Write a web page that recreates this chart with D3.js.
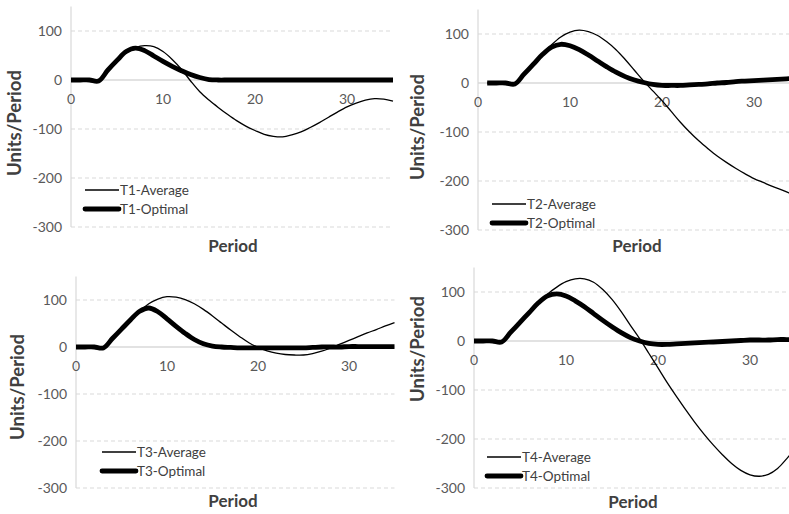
<!DOCTYPE html>
<html>
<head>
<meta charset="utf-8">
<script src="https://cdnjs.cloudflare.com/ajax/libs/d3/7.8.5/d3.min.js"></script>
<style>
  body { margin: 0; background: #fff; }
  text { font-family: Lato, "Open Sans", sans-serif; }
</style>
</head>
<body>
<div id="chart"></div>
<script>
// values, one value per period
var t1Periods = d3.range(0, 36);
var t1Average = [0, 0, 0, -2, 20, 40, 57, 66, 70, 68, 58, 42, 22, -2, -24, -41, -56, -70, -83, -94, -103, -111, -115, -116, -112, -106, -97, -87, -76, -65, -55, -47, -41, -38, -39, -43];
var t1Optimal = [0, 0, 0, -2, 20, 40, 58, 65, 60, 49, 38, 28, 19, 11, 5, 1, 0, 0, 0, 0, 0, 0, 0, 0, 0, 0, 0, 0, 0, 0, 0, 0, 0, 0, 0, 0];

var t2Periods = d3.range(1, 36);
var t2Average = [0, 0, 0, -2, 18, 38, 58, 78, 94, 104, 108, 105, 97, 84, 68, 48, 26, 4, -16, -36, -58, -80, -100, -118, -134, -149, -162, -174, -185, -195, -203, -211, -218, -226, -234];
var t2Optimal = [0, 0, 0, -2, 18, 38, 58, 73, 79, 76, 68, 57, 45, 33, 22, 13, 6, 1, -3, -5, -5, -5, -4, -3, -2, 0, 1, 3, 4, 5, 6, 7, 8, 9, 10];

var t3Periods = d3.range(0, 36);
var t3Average = [0, 0, 0, -2, 18, 38, 58, 76, 92, 102, 107, 106, 101, 92, 80, 66, 51, 36, 22, 9, -1, -8, -13, -16, -17, -17, -14, -9, -2, 6, 14, 22, 30, 37, 45, 52];
var t3Optimal = [0, 0, 0, -2, 18, 38, 58, 76, 83, 75, 60, 44, 29, 16, 7, 2, 0, -1, -2, -2, -2, -2, -2, -2, -2, -2, -1, 0, 0, 0, 1, 1, 1, 1, 1, 1];

var t4Periods = d3.range(0, 36);
var t4Average = [0, 0, 0, -2, 18, 38, 58, 78, 96, 110, 121, 127, 127, 120, 105, 85, 60, 32, 5, -25, -55, -85, -113, -140, -166, -190, -212, -232, -250, -264, -273, -276, -272, -260, -240, -218];
var t4Optimal = [0, 0, 0, -2, 18, 38, 58, 78, 92, 96, 92, 82, 70, 56, 42, 29, 17, 7, 0, -5, -7, -7, -6, -5, -4, -3, -2, -1, 0, 1, 2, 2, 2, 3, 3, 3];

var yTicks = [100, 0, -100, -200, -300];
var xTicks = [0, 10, 20, 30];

var panels = [
  { name: "T1", periods: t1Periods, avg: t1Average, opt: t1Optimal,
    x0: 71, x1: 393, yTop: 6.5, yBot: 227, legX: 85, legY: 190, ytX: 15, ytY: 123, ptX: 233, ptY: 252 },
  { name: "T2", periods: t2Periods, avg: t2Average, opt: t2Optimal,
    x0: 478, x1: 800, yTop: 9.5, yBot: 230, legX: 492, legY: 204, ytX: 418, ytY: 127, ptX: 637, ptY: 252 },
  { name: "T3", periods: t3Periods, avg: t3Average, opt: t3Optimal,
    x0: 76, x1: 394.5, yTop: 276.5, yBot: 488, legX: 102, legY: 452, ytX: 18, ytY: 387, ptX: 233, ptY: 507 },
  { name: "T4", periods: t4Periods, avg: t4Average, opt: t4Optimal,
    x0: 474, x1: 796, yTop: 267.5, yBot: 488, legX: 487, legY: 457, ytX: 418, ytY: 349, ptX: 633, ptY: 508 }
];

var svg = d3.select("#chart").append("svg")
  .attr("width", 789)
  .attr("height", 514);

panels.forEach(function (p) {
  var x = d3.scaleLinear().domain([0, 35]).range([p.x0, p.x1]);
  var y = d3.scaleLinear().domain([-300, 150]).range([p.yBot, p.yTop]);
  var g = svg.append("g");

  // dashed gridlines
  g.selectAll(".grid")
    .data(yTicks.filter(function (d) { return d !== 0; }))
    .enter().append("line")
    .attr("x1", x(0)).attr("x2", x(35))
    .attr("y1", function (d) { return y(d); })
    .attr("y2", function (d) { return y(d); })
    .attr("stroke", "#d9d9d9")
    .attr("stroke-width", 1)
    .attr("stroke-dasharray", "4,3");

  // y axis line
  g.append("line")
    .attr("x1", x(0)).attr("x2", x(0))
    .attr("y1", y(150)).attr("y2", y(-300))
    .attr("stroke", "#d9d9d9").attr("stroke-width", 1.2);

  // zero line (x axis)
  g.append("line")
    .attr("x1", x(0)).attr("x2", x(35))
    .attr("y1", y(0)).attr("y2", y(0))
    .attr("stroke", "#d9d9d9").attr("stroke-width", 1.5);

  // y tick labels
  g.selectAll(".ytick")
    .data(yTicks).enter().append("text")
    .attr("x", x(0) - 9)
    .attr("y", function (d) { return y(d); })
    .attr("dy", "0.35em")
    .attr("text-anchor", "end")
    .attr("font-size", "14px")
    .attr("fill", "#595959")
    .text(function (d) { return d; });

  // x tick labels, below the zero line
  g.selectAll(".xtick")
    .data(xTicks).enter().append("text")
    .attr("x", function (d) { return x(d); })
    .attr("y", y(0) + 24)
    .attr("text-anchor", "middle")
    .attr("font-size", "14px")
    .attr("fill", "#595959")
    .text(function (d) { return d; });

  var line = d3.line()
    .x(function (d) { return x(d[0]); })
    .y(function (d) { return y(d[1]); })
    .curve(d3.curveCatmullRom.alpha(0.5));

  var avgPts = p.periods.map(function (t, i) { return [t, p.avg[i]]; });
  var optPts = p.periods.map(function (t, i) { return [t, p.opt[i]]; });

  g.append("path").datum(avgPts)
    .attr("d", line).attr("fill", "none")
    .attr("stroke", "#000").attr("stroke-width", 1.3);

  g.append("path").datum(optPts)
    .attr("d", line).attr("fill", "none")
    .attr("stroke", "#000").attr("stroke-width", 4.8)
    .attr("stroke-linejoin", "round");

  // legend
  var leg = [
    { label: p.name + "-Average", w: 1.3, dy: 0 },
    { label: p.name + "-Optimal", w: 4.8, dy: 19 }
  ];
  leg.forEach(function (l) {
    g.append("line")
      .attr("x1", p.legX).attr("x2", p.legX + 34)
      .attr("y1", p.legY + l.dy).attr("y2", p.legY + l.dy)
      .attr("stroke", "#000").attr("stroke-width", l.w)
      .attr("stroke-linecap", l.w > 2 ? "round" : "butt");
    g.append("text")
      .attr("x", p.legX + 35)
      .attr("y", p.legY + l.dy)
      .attr("dy", "0.35em")
      .attr("font-size", "13.5px")
      .attr("fill", "#404040")
      .text(l.label);
  });

  // axis titles
  g.append("text")
    .attr("transform", "translate(" + p.ytX + "," + p.ytY + ") rotate(-90)")
    .attr("text-anchor", "middle")
    .attr("dy", "0.35em")
    .attr("font-size", "18.5px")
    .attr("font-weight", "bold")
    .attr("fill", "#404040")
    .text("Units/Period");

  g.append("text")
    .attr("x", p.ptX).attr("y", p.ptY)
    .attr("text-anchor", "middle")
    .attr("font-size", "17px")
    .attr("font-weight", "bold")
    .attr("fill", "#404040")
    .text("Period");
});
</script>
</body>
</html>
